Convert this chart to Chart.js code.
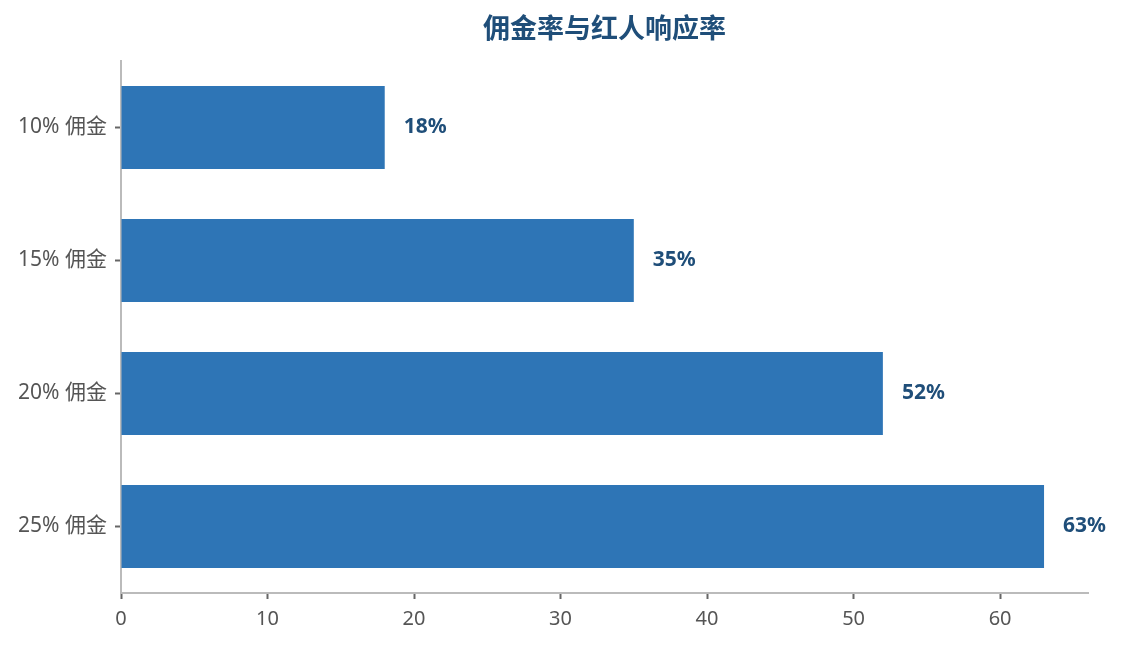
<!DOCTYPE html>
<html><head><meta charset="utf-8">
<script src="https://cdn.jsdelivr.net/npm/chart.js@4.4.0/dist/chart.umd.min.js"></script>
<style>html,body{margin:0;padding:0;background:#fff}#wrap{width:1122px;height:645px}</style>
</head><body><div id="wrap"><canvas id="c"></canvas></div>
<script>
const categories = ["10% 佣金", "15% 佣金", "20% 佣金", "25% 佣金"];
const responseRates = [18, 35, 52, 63];
const xTicks = [0, 10, 20, 30, 40, 50, 60];
const titleText = "佣金率与红人响应率";
const FONT = '"Noto Sans", "Noto Sans CJK SC", sans-serif';

const titlePlugin = {
  id: 'centerTitle',
  afterDraw(chart) {
    const {ctx, chartArea} = chart;
    ctx.save();
    ctx.font = 'bold 27px "Noto Sans CJK SC", "Noto Sans", sans-serif';
    ctx.fillStyle = '#1f4e79';
    ctx.textAlign = 'center';
    ctx.textBaseline = 'middle';
    ctx.fillText(titleText, (chartArea.left + chartArea.right) / 2, 28);
    ctx.restore();
  }
};
const labelPlugin = {
  id: 'barLabels',
  afterDatasetsDraw(chart) {
    const {ctx} = chart;
    const meta = chart.getDatasetMeta(0);
    ctx.save();
    ctx.font = 'bold 21px ' + FONT;
    ctx.fillStyle = '#1f4e79';
    ctx.textAlign = 'left';
    ctx.textBaseline = 'middle';
    meta.data.forEach((bar, i) => {
      ctx.fillText(responseRates[i] + '%', bar.x + 19, bar.y);
    });
    ctx.restore();
  }
};

new Chart(document.getElementById('c'), {
  type: 'bar',
  data: {
    labels: categories,
    datasets: [{
      data: responseRates,
      backgroundColor: '#2e75b6',
      barPercentage: 0.625,
      categoryPercentage: 1.0
    }]
  },
  options: {
    indexAxis: 'y',
    responsive: true,
    maintainAspectRatio: false,
    animation: false,
    layout: {padding: {top: 61, right: 34, left: 0, bottom: 0}},
    plugins: {legend: {display: false}, title: {display: false}, tooltip: {enabled: false}},
    scales: {
      x: {
        min: 0, max: 66,
        afterBuildTicks(axis) { axis.ticks = xTicks.map(v => ({value: v})); },
        afterFit(axis) { axis.height = 52; },
        grid: {drawOnChartArea: false, drawTicks: true, tickLength: 6, tickColor: '#666', tickWidth: 2},
        border: {color: '#bbb', width: 2},
        ticks: {color: '#555', font: {size: 20, family: FONT}, padding: 8}
      },
      y: {
        afterFit(axis) { axis.width = 121; },
        grid: {offset: false, drawOnChartArea: false, drawTicks: true, tickLength: 6, tickColor: '#666', tickWidth: 2},
        border: {color: '#bbb', width: 2},
        ticks: {color: '#555', font: {size: 21, family: FONT}, padding: 8}
      }
    }
  },
  plugins: [titlePlugin, labelPlugin]
});
</script></body></html>
